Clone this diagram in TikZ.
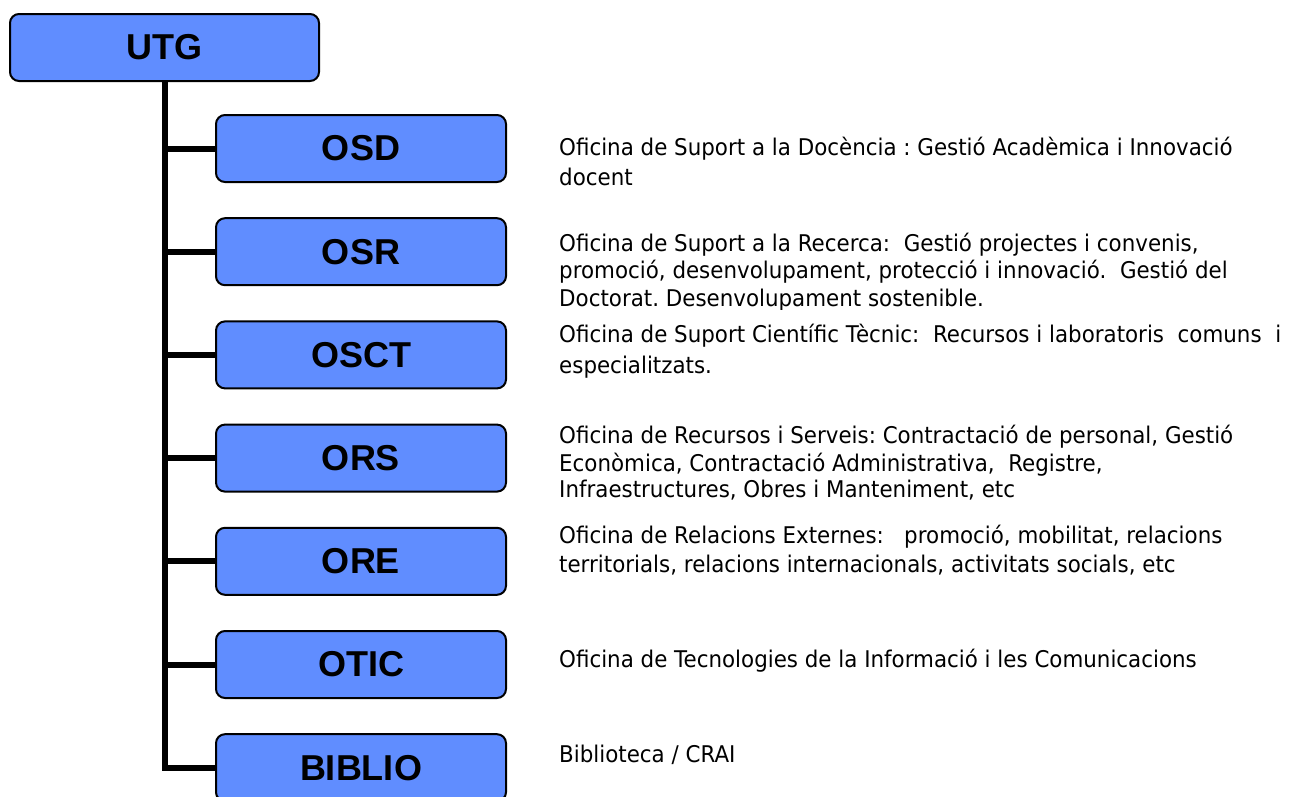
\documentclass[tikz,border=0pt]{standalone}
\usepackage{fontspec}
\setmainfont{Liberation Sans}
\newfontfamily\descfont[FakeStretch=0.93]{DejaVu Sans}
\definecolor{boxblue}{RGB}{96,141,255}
\frenchspacing
\begin{document}
\begin{tikzpicture}[x=1pt,y=-1pt,
  unit/.style={draw=black, line width=2pt, fill=boxblue, rounded corners=9pt,
    minimum height=67pt, inner sep=0pt,
    font=\fontsize{36}{40}\selectfont\bfseries},
  topunit/.style={unit, minimum width=309pt},
  subunit/.style={unit, minimum width=290pt},
  conn/.style={line width=6pt},
  desc/.style={anchor=base west, inner sep=0pt, font=\descfont\fontsize{23}{27}\selectfont\frenchspacing}]
\clip (0,0) rectangle (1296,796);
\fill[white] (0,0) rectangle (1296,796);

% units
\node[topunit] (utg) at (164.5,47.5) {UTG};
\node[subunit] (osd)    at (361,148.5) {OSD};
\node[subunit] (osr)    at (361,251.7) {OSR};
\node[subunit] (osct)   at (361,354.9) {OSCT};
\node[subunit] (ors)    at (361,458.1) {ORS};
\node[subunit] (ore)    at (361,561.3) {ORE};
\node[subunit] (otic)   at (361,664.5) {OTIC};
\node[subunit] (biblio) at (361,767.7) {BIBLIO};

% connectors
\draw[conn] (utg.south) -- (utg.south |- biblio.west) -- (biblio.west);
\foreach \n in {osd,osr,osct,ors,ore,otic}{
  \draw[conn] (utg.south |- \n.west) -- (\n.west);
}

% descriptions
\node[desc] (osd1) at (559,155) {Oficina de Suport a la Docència : Gestió Acadèmica i Innovació};
\node[desc] (osd2) at (559,185) {docent};

\node[desc] (osr1) at (559,251) {Oficina de Suport a la Recerca:~ Gestió projectes i convenis,};
\node[desc] (osr2) at (559,278) {promoció, desenvolupament, protecció i innovació.~ Gestió del};
\begin{scope}
\clip (540,285) rectangle (1296,309.5);
\node[desc] (osr3) at (559,306) {Doctorat. Desenvolupament sostenible.};
\end{scope}

\node[desc] (osct1) at (559,342) {Oficina de Suport Científic Tècnic:~ Recursos i laboratoris~ comuns~ i};
\node[desc] (osct2) at (559,373) {especialitzats.};

\node[desc] (ors1) at (559,443) {Oficina de Recursos i Serveis: Contractació de personal, Gestió};
\node[desc] (ors2) at (559,471) {Econòmica, Contractació Administrativa,~ Registre,};
\node[desc] (ors3) at (559,497) {Infraestructures, Obres i Manteniment, etc};

\node[desc] (ore1) at (559,543) {Oficina de Relacions Externes:~~ promoció, mobilitat, relacions};
\node[desc] (ore2) at (559,572) {territorials, relacions internacionals, activitats socials, etc};

\node[desc] (otic1) at (559,667) {Oficina de Tecnologies de la Informació i les Comunicacions};

\node[desc] (bib1) at (559,762) {Biblioteca / CRAI};
\end{tikzpicture}
\end{document}
